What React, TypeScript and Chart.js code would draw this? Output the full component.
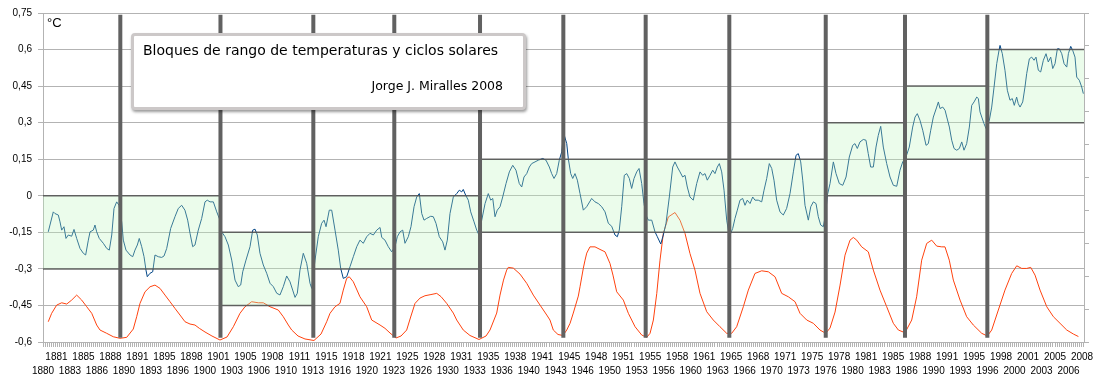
import React, { useEffect, useRef } from 'react';
import { Chart, registerables } from 'chart.js';

Chart.register(...registerables);

// ---- axis ranges ----
const X_MIN = 1880;
const X_MAX = 2008.58;
const LABEL_STEP = 20 / 12; // one label every 20 months
const MINOR_STEP = 0.25; // minor tick every quarter

const xTickLabels = [
  '1880', '1881', '1883', '1885', '1886', '1888', '1890', '1891', '1893', '1895', '1896', '1898',
  '1900', '1901', '1903', '1905', '1906', '1908', '1910', '1911', '1913', '1915', '1916', '1918',
  '1920', '1921', '1923', '1925', '1926', '1928', '1930', '1931', '1933', '1935', '1936', '1938',
  '1940', '1941', '1943', '1945', '1946', '1948', '1950', '1951', '1953', '1955', '1956', '1958',
  '1960', '1961', '1963', '1965', '1966', '1968', '1970', '1971', '1973', '1975', '1976', '1978',
  '1980', '1981', '1983', '1985', '1986', '1988', '1990', '1991', '1993', '1995', '1996', '1998',
  '2000', '2001', '2003', '2005', '2006', '2008',
];

const yTempTicks = [-0.6, -0.45, -0.3, -0.15, 0, 0.15, 0.3, 0.45, 0.6, 0.75];
const ySunMin = 0;
const ySunMax = 500;
const ySunStep = 50;

// ---- solar minima (vertical bars) ----
const solarMinima = [1889.55, 1901.92, 1913.39, 1923.39, 1933.98, 1944.27, 1954.44, 1964.77, 1976.68, 1986.47, 1996.64];
const barBottom = -0.583;
const barTop = 0.743;

// ---- temperature range blocks ----
const blockStarts = [1880, 1901.92, 1913.39, 1933.98, 1976.68, 1986.47, 1996.64];
const blockLow = [-0.3, -0.45, -0.3, -0.15, 0, 0.15, 0.3];
const blockHigh = [0, -0.15, 0, 0.15, 0.3, 0.45, 0.6];

// ---- temperature anomaly (ºC), [year, value] ----
const temperature: [number, number][] = [
  [1880.65, -0.148], [1881.27, -0.066], [1881.48, -0.073], [1881.89, -0.079], [1882.10, -0.107], [1882.31, -0.141],
  [1882.59, -0.127], [1882.84, -0.175], [1883.13, -0.161], [1883.54, -0.166], [1883.83, -0.138], [1884.16, -0.175],
  [1884.57, -0.216], [1884.98, -0.236], [1885.27, -0.243], [1885.60, -0.182], [1885.81, -0.148], [1886.21, -0.141],
  [1886.42, -0.120], [1886.63, -0.148], [1886.95, -0.175], [1887.45, -0.195], [1887.87, -0.216], [1888.19, -0.223],
  [1888.49, -0.161], [1888.77, -0.052], [1889.10, -0.025], [1889.39, -0.039], [1889.72, -0.107], [1889.92, -0.182],
  [1890.25, -0.223], [1890.75, -0.243], [1891.08, -0.250], [1891.36, -0.223], [1891.65, -0.202], [1891.89, -0.175],
  [1892.19, -0.209], [1892.48, -0.250], [1892.72, -0.305], [1892.88, -0.332], [1893.22, -0.318], [1893.55, -0.312],
  [1893.83, -0.243], [1894.24, -0.250], [1894.66, -0.253], [1894.95, -0.247], [1895.28, -0.216], [1895.77, -0.134],
  [1896.30, -0.086], [1896.71, -0.052], [1897.13, -0.039], [1897.53, -0.059], [1897.87, -0.100], [1898.16, -0.154],
  [1898.49, -0.209], [1898.77, -0.202], [1899.18, -0.141], [1899.60, -0.093], [1900.01, -0.025], [1900.29, -0.018],
  [1900.63, -0.025], [1901.04, -0.025], [1901.46, -0.066], [1901.86, -0.100], [1902.07, -0.148], [1902.48, -0.168],
  [1902.89, -0.202], [1903.31, -0.264], [1903.72, -0.346], [1904.12, -0.373], [1904.42, -0.366], [1904.67, -0.312],
  [1905.07, -0.264], [1905.57, -0.209], [1905.90, -0.141], [1906.19, -0.137], [1906.47, -0.161], [1906.80, -0.236],
  [1907.21, -0.284], [1907.63, -0.318], [1908.04, -0.359], [1908.45, -0.373], [1908.87, -0.400], [1909.27, -0.407],
  [1909.68, -0.373], [1910.10, -0.329], [1910.51, -0.353], [1910.84, -0.387], [1911.13, -0.417], [1911.41, -0.400],
  [1911.74, -0.305], [1912.15, -0.236], [1912.57, -0.277], [1912.98, -0.359], [1913.19, -0.380], [1913.60, -0.264],
  [1914.00, -0.168], [1914.42, -0.113], [1914.71, -0.100], [1914.96, -0.127], [1915.36, -0.059], [1915.66, -0.059],
  [1916.07, -0.141], [1916.47, -0.223], [1916.77, -0.298], [1917.09, -0.339], [1917.51, -0.332], [1917.92, -0.291],
  [1918.33, -0.250], [1918.75, -0.209], [1919.15, -0.182], [1919.56, -0.195], [1919.98, -0.168], [1920.39, -0.154],
  [1920.80, -0.161], [1921.22, -0.141], [1921.63, -0.130], [1921.84, -0.171], [1922.24, -0.182], [1922.65, -0.209],
  [1923.07, -0.230], [1923.48, -0.209], [1923.76, -0.168], [1924.10, -0.148], [1924.43, -0.141], [1924.71, -0.195],
  [1925.12, -0.168], [1925.45, -0.127], [1925.83, -0.045], [1926.16, -0.005], [1926.48, 0.009], [1926.78, -0.073],
  [1927.06, -0.100], [1927.39, -0.093], [1927.89, -0.084], [1928.21, -0.086], [1928.54, -0.113], [1928.95, -0.168],
  [1929.37, -0.189], [1929.65, -0.223], [1929.94, -0.182], [1930.27, -0.073], [1930.68, -0.005], [1931.10, 0.009],
  [1931.42, 0.023], [1931.72, 0.016], [1931.91, 0.026], [1932.21, 0.002], [1932.53, -0.018], [1932.83, -0.066],
  [1933.24, -0.107], [1933.57, -0.141], [1933.85, -0.161], [1934.19, -0.100], [1934.60, -0.032], [1935.00, 0.009],
  [1935.30, -0.018], [1935.55, -0.011], [1935.83, -0.086], [1936.11, -0.059], [1936.45, -0.045], [1936.78, -0.005],
  [1937.19, 0.050], [1937.60, 0.098], [1938.02, 0.125], [1938.42, 0.105], [1938.83, 0.050], [1939.13, 0.036],
  [1939.41, 0.077], [1939.75, 0.091], [1940.07, 0.118], [1940.36, 0.132], [1940.77, 0.139], [1941.18, 0.146],
  [1941.72, 0.153], [1942.13, 0.146], [1942.54, 0.118], [1942.83, 0.091], [1943.12, 0.071], [1943.45, 0.091],
  [1943.77, 0.146], [1944.07, 0.180], [1944.19, 0.221], [1944.39, 0.248], [1944.69, 0.214], [1944.88, 0.153],
  [1945.18, 0.091], [1945.43, 0.071], [1945.71, 0.091], [1946.00, 0.064], [1946.33, 0.009], [1946.74, -0.059],
  [1947.15, -0.045], [1947.77, -0.011], [1948.18, -0.025], [1948.59, -0.032], [1949.01, -0.045], [1949.42, -0.066],
  [1949.83, -0.113], [1950.24, -0.125], [1950.65, -0.161], [1950.94, -0.168], [1951.18, -0.141], [1951.48, -0.045],
  [1951.80, 0.084], [1952.10, 0.091], [1952.42, 0.071], [1952.71, 0.030], [1953.00, 0.071], [1953.33, 0.098],
  [1953.62, 0.112], [1953.95, 0.050], [1954.23, -0.032], [1954.48, -0.079], [1954.77, -0.100], [1955.19, -0.100],
  [1955.59, -0.148], [1955.88, -0.168], [1956.30, -0.198], [1956.62, -0.161], [1956.95, -0.113], [1957.36, -0.005],
  [1957.78, 0.118], [1958.06, 0.139], [1958.35, 0.118], [1958.68, 0.098], [1959.01, 0.077], [1959.30, 0.084],
  [1959.58, 0.036], [1959.91, -0.005], [1960.32, -0.018], [1960.74, 0.050], [1961.15, 0.098], [1961.48, 0.084],
  [1961.77, 0.091], [1962.05, 0.064], [1962.39, 0.084], [1962.72, 0.105], [1963.00, 0.091], [1963.29, 0.118],
  [1963.54, 0.132], [1963.83, 0.098], [1964.12, 0.023], [1964.45, -0.100], [1964.65, -0.141], [1964.94, -0.154],
  [1965.19, -0.134], [1965.47, -0.093], [1965.76, -0.059], [1966.09, -0.018], [1966.42, -0.011], [1966.71, -0.039],
  [1966.99, -0.018], [1967.33, -0.032], [1967.66, -0.005], [1967.94, -0.018], [1968.35, -0.018], [1968.77, -0.025],
  [1969.06, 0.023], [1969.39, 0.071], [1969.71, 0.132], [1970.01, 0.112], [1970.29, 0.064], [1970.62, -0.018],
  [1971.03, -0.066], [1971.44, -0.079], [1971.85, -0.052], [1972.27, 0.009], [1972.68, 0.098], [1973.01, 0.166],
  [1973.29, 0.173], [1973.59, 0.139], [1973.84, 0.064], [1974.12, -0.039], [1974.53, -0.100], [1974.83, -0.045],
  [1975.15, -0.025], [1975.48, -0.032], [1975.76, -0.086], [1976.06, -0.120], [1976.38, -0.127], [1976.68, -0.073],
  [1976.88, 0.002], [1977.21, 0.050], [1977.62, 0.139], [1977.95, 0.091], [1978.36, 0.050], [1978.78, 0.043],
  [1979.19, 0.077], [1979.59, 0.159], [1980.01, 0.207], [1980.29, 0.214], [1980.58, 0.194], [1980.91, 0.221],
  [1981.32, 0.231], [1981.65, 0.228], [1981.93, 0.173], [1982.23, 0.118], [1982.56, 0.118], [1982.89, 0.200],
  [1983.17, 0.248], [1983.47, 0.285], [1983.79, 0.200], [1984.21, 0.132], [1984.62, 0.077], [1985.03, 0.043],
  [1985.45, 0.039], [1985.85, 0.105], [1986.19, 0.139], [1986.59, 0.159], [1987.00, 0.200], [1987.42, 0.282],
  [1987.71, 0.323], [1987.99, 0.337], [1988.32, 0.310], [1988.66, 0.269], [1989.07, 0.207], [1989.35, 0.214],
  [1989.65, 0.269], [1989.97, 0.323], [1990.39, 0.364], [1990.59, 0.385], [1990.80, 0.358], [1991.13, 0.364],
  [1991.42, 0.351], [1991.63, 0.323], [1991.95, 0.282], [1992.24, 0.228], [1992.53, 0.194], [1992.86, 0.187],
  [1993.18, 0.194], [1993.48, 0.221], [1993.76, 0.187], [1994.09, 0.214], [1994.42, 0.282], [1994.71, 0.371],
  [1995.00, 0.385], [1995.33, 0.405], [1995.53, 0.399], [1995.74, 0.344], [1995.95, 0.323], [1996.23, 0.296],
  [1996.48, 0.276], [1996.64, 0.289], [1996.89, 0.310], [1997.18, 0.364], [1997.47, 0.446], [1997.80, 0.542],
  [1998.08, 0.596], [1998.21, 0.617], [1998.49, 0.583], [1998.82, 0.515], [1999.11, 0.433], [1999.44, 0.392],
  [1999.72, 0.399], [1999.97, 0.371], [2000.26, 0.405], [2000.46, 0.378], [2000.68, 0.364], [2001.01, 0.385],
  [2001.29, 0.446], [2001.50, 0.501], [2001.83, 0.562], [2002.12, 0.569], [2002.41, 0.556], [2002.65, 0.569],
  [2002.94, 0.515], [2003.23, 0.508], [2003.56, 0.556], [2003.89, 0.583], [2004.17, 0.549], [2004.47, 0.569],
  [2004.72, 0.522], [2005.00, 0.542], [2005.29, 0.603], [2005.53, 0.603], [2005.83, 0.583], [2006.12, 0.542],
  [2006.45, 0.528], [2006.65, 0.583], [2006.94, 0.613], [2007.19, 0.596], [2007.47, 0.569], [2007.68, 0.487],
  [2008.00, 0.474], [2008.30, 0.446], [2008.50, 0.419],
];

// ---- smoothed sunspot number (right axis), [year, value] ----
const sunspots: [number, number][] = [
  [1880.65, 30.8], [1881.07, 43.6], [1881.69, 56.1], [1882.31, 59.6], [1882.93, 57.7], [1883.54, 63.7],
  [1884.16, 71.3], [1884.78, 63.7], [1885.40, 53.6], [1886.02, 43.6], [1886.63, 25.8], [1887.04, 18.2],
  [1887.87, 13.2], [1888.68, 8.0], [1889.51, 5.6], [1890.34, 7.1], [1891.15, 19.7], [1891.57, 38.4],
  [1891.98, 58.7], [1892.60, 76.3], [1893.22, 83.9], [1893.83, 86.5], [1894.45, 81.5], [1895.07, 71.3],
  [1895.69, 61.2], [1896.30, 51.1], [1896.92, 41.0], [1897.54, 30.8], [1898.16, 27.3], [1898.77, 25.8],
  [1899.31, 20.8], [1900.01, 15.2], [1900.87, 9.1], [1901.86, 3.0], [1902.73, 7.6], [1903.51, 23.2],
  [1904.33, 43.6], [1904.95, 53.6], [1905.78, 61.2], [1906.59, 59.6], [1907.21, 59.6], [1908.04, 53.6],
  [1909.06, 48.6], [1909.68, 38.4], [1910.30, 25.8], [1910.72, 18.2], [1911.50, 9.1], [1912.36, 4.6],
  [1913.47, 2.3], [1914.34, 12.1], [1915.04, 30.8], [1915.45, 43.6], [1916.07, 53.6], [1916.68, 58.7],
  [1917.09, 78.9], [1917.51, 96.7], [1917.83, 99.1], [1918.33, 91.5], [1919.15, 68.7], [1919.98, 53.6],
  [1920.60, 33.4], [1921.63, 25.8], [1922.24, 20.8], [1922.86, 13.7], [1923.60, 6.1], [1924.22, 9.1],
  [1924.92, 18.2], [1925.45, 39.5], [1925.95, 58.7], [1926.57, 66.8], [1927.18, 70.3], [1927.92, 72.1],
  [1928.63, 73.9], [1929.16, 69.0], [1929.86, 58.7], [1930.68, 44.0], [1931.10, 33.4], [1931.91, 18.2],
  [1932.74, 9.9], [1933.85, 3.8], [1934.72, 9.1], [1935.21, 18.2], [1936.04, 44.0], [1936.45, 71.3],
  [1936.88, 94.1], [1937.27, 109.3], [1937.47, 113.4], [1938.09, 112.3], [1938.92, 103.2], [1939.75, 89.1],
  [1940.56, 71.3], [1941.39, 56.1], [1942.22, 41.0], [1942.62, 33.4], [1943.03, 18.2], [1943.61, 11.4],
  [1944.23, 9.9], [1944.69, 18.2], [1945.10, 28.4], [1945.50, 44.0], [1946.12, 69.8], [1946.33, 83.9],
  [1946.74, 112.3], [1946.95, 124.4], [1947.16, 135.1], [1947.56, 144.6], [1948.18, 144.6], [1948.80, 140.7],
  [1949.42, 137.0], [1950.03, 119.4], [1950.40, 101.7], [1950.86, 76.3], [1951.68, 63.7], [1952.30, 43.6],
  [1953.13, 23.2], [1953.95, 10.6], [1954.57, 7.1], [1954.98, 13.2], [1955.39, 33.4], [1955.81, 73.9],
  [1956.21, 124.4], [1956.62, 164.9], [1957.24, 190.1], [1958.06, 196.8], [1958.68, 185.1], [1959.30, 164.9],
  [1959.91, 134.6], [1960.53, 109.3], [1961.15, 73.9], [1961.98, 46.0], [1962.79, 33.4], [1963.62, 23.2],
  [1964.45, 13.2], [1965.06, 13.2], [1965.68, 23.2], [1966.50, 53.6], [1967.12, 78.9], [1967.94, 104.2],
  [1968.77, 108.2], [1969.59, 106.7], [1970.42, 99.1], [1971.24, 73.9], [1972.06, 68.7], [1972.89, 61.2],
  [1973.50, 43.6], [1974.33, 33.4], [1975.15, 28.4], [1975.97, 18.2], [1976.68, 13.2], [1977.21, 21.2],
  [1977.83, 45.5], [1978.45, 86.5], [1979.06, 132.0], [1979.68, 154.8], [1980.09, 158.9], [1980.51, 154.8],
  [1981.12, 144.6], [1981.94, 137.0], [1982.56, 109.3], [1983.38, 78.9], [1984.21, 53.6], [1985.03, 28.4],
  [1985.65, 18.2], [1986.47, 14.1], [1987.30, 33.4], [1987.91, 68.7], [1988.53, 124.4], [1989.15, 149.8],
  [1989.77, 154.8], [1990.39, 145.7], [1991.01, 144.6], [1991.41, 144.6], [1991.94, 124.4], [1992.44, 94.1],
  [1993.27, 63.7], [1994.09, 38.4], [1994.91, 25.8], [1995.95, 13.2], [1996.64, 9.1], [1997.18, 18.2],
  [1998.00, 48.6], [1998.82, 78.9], [1999.65, 104.2], [2000.27, 115.8], [2000.89, 111.8], [2001.50, 111.8],
  [2002.00, 113.4], [2002.53, 101.7], [2003.15, 78.9], [2003.98, 53.6], [2004.80, 38.4], [2005.62, 28.4],
  [2006.45, 18.2], [2007.27, 12.1], [2007.89, 8.3],
];

const TITLE = 'Bloques de rango de temperaturas y ciclos solares';
const AUTHOR = 'Jorge J. Miralles 2008';
const UNIT = '°C';

const GRID = '#b3b3b3';

function fmtComma(v: number): string {
  const n = Math.round(v * 100) / 100;
  return String(n === 0 ? 0 : n).replace('.', ',');
}

export default function App() {
  const canvasRef = useRef<HTMLCanvasElement | null>(null);

  useEffect(() => {
    const canvas = canvasRef.current;
    if (!canvas) return;

    const labelTicks = xTickLabels.map((_, i) => ({ value: X_MIN + i * LABEL_STEP }));
    const minorTicks: { value: number }[] = [];
    const nMinor = Math.floor((X_MAX - X_MIN) / MINOR_STEP + 1e-9);
    for (let i = 0; i <= nMinor; i++) minorTicks.push({ value: X_MIN + i * MINOR_STEP });

    const barData: { x: number; y: number | null }[] = [];
    solarMinima.forEach((m) => {
      barData.push({ x: m, y: barBottom }, { x: m, y: barTop }, { x: m, y: null });
    });

    const last = blockStarts.length - 1;
    const upper = blockStarts.map((s, i) => ({ x: s, y: blockHigh[i] }));
    upper.push({ x: X_MAX, y: blockHigh[last] });
    const lower = blockStarts.map((s, i) => ({ x: s, y: blockLow[i] }));
    lower.push({ x: X_MAX, y: blockLow[last] });

    const chart = new Chart(canvas, {
      type: 'line',
      data: {
        datasets: [
          {
            label: 'Mínimos solares',
            data: barData as any,
            borderColor: '#616161',
            borderWidth: 4,
            pointRadius: 0,
            spanGaps: false,
            fill: false,
            order: 1,
            xAxisID: 'x',
            yAxisID: 'y',
          },
          {
            label: 'Bloque sup',
            data: upper,
            stepped: true,
            borderColor: 'rgba(80,80,80,0.85)',
            borderWidth: 1.5,
            pointRadius: 0,
            fill: false,
            order: 2,
            xAxisID: 'x',
            yAxisID: 'y',
          },
          {
            label: 'Bloque inf',
            data: lower,
            stepped: true,
            borderColor: 'rgba(80,80,80,0.85)',
            borderWidth: 1.5,
            pointRadius: 0,
            fill: '-1',
            backgroundColor: 'rgba(190,245,190,0.3)',
            order: 2,
            xAxisID: 'x',
            yAxisID: 'y',
          },
          {
            label: 'Temperatura',
            data: temperature.map(([x, y]) => ({ x, y })),
            borderColor: '#004586',
            borderWidth: 1,
            pointRadius: 0,
            fill: false,
            order: 3,
            xAxisID: 'x',
            yAxisID: 'y',
          },
          {
            label: 'Manchas solares',
            data: sunspots.map(([x, y]) => ({ x, y })),
            borderColor: '#ff420e',
            borderWidth: 1,
            pointRadius: 0,
            fill: false,
            order: 3,
            xAxisID: 'x',
            yAxisID: 'y2',
          },
        ],
      },
      options: {
        responsive: false,
        animation: false,
        events: [],
        layout: { padding: { top: 13, left: 0, right: 0, bottom: 0 } },
        plugins: {
          legend: { display: false },
          tooltip: { enabled: false },
        },
        scales: {
          x: {
            type: 'linear',
            position: 'bottom',
            weight: 1,
            min: X_MIN,
            max: X_MAX,
            afterBuildTicks: (s: any) => {
              s.ticks = labelTicks.map((t) => ({ value: t.value }));
            },
            afterFit: (s: any) => {
              s.height = 45;
            },
            grid: { display: false, drawTicks: false },
            border: { display: false },
            ticks: {
              autoSkip: false,
              maxRotation: 0,
              minRotation: 0,
              padding: 3,
              color: '#000',
              font: { family: 'Liberation Sans', size: 10, lineHeight: 1.43 },
              callback: (_v: any, i: number) => (i % 2 === 0 ? ['', xTickLabels[i]] : xTickLabels[i]),
            },
          },
          xMinor: {
            type: 'linear',
            axis: 'x',
            position: 'bottom',
            weight: 0,
            min: X_MIN,
            max: X_MAX,
            afterBuildTicks: (s: any) => {
              s.ticks = minorTicks.map((t) => ({ value: t.value }));
            },
            afterFit: (s: any) => {
              s.height = 5;
            },
            grid: { drawOnChartArea: false, color: GRID, tickLength: 5 },
            border: { display: true, color: GRID },
            ticks: { display: false },
          },
          y: {
            type: 'linear',
            position: 'left',
            min: -0.6,
            max: 0.75,
            afterBuildTicks: (s: any) => {
              s.ticks = yTempTicks.map((v) => ({ value: v }));
            },
            afterFit: (s: any) => {
              s.width = 43;
            },
            grid: { color: GRID, tickLength: 5 },
            border: { color: GRID },
            ticks: {
              padding: 6,
              color: '#000',
              font: { family: 'Liberation Sans', size: 10 },
              callback: (v: any) => fmtComma(Number(v)),
            },
          },
          y2: {
            type: 'linear',
            position: 'right',
            min: ySunMin,
            max: ySunMax,
            ticks: { display: false, stepSize: ySunStep },
            afterFit: (s: any) => {
              s.width = 31;
            },
            grid: { drawOnChartArea: false, color: GRID, tickLength: 5 },
            border: { color: GRID },
          },
        },
      } as any,
    });

    return () => chart.destroy();
  }, []);

  return (
    <div style={{ position: 'absolute', left: 0, top: 0, width: 1115, height: 392, background: '#ffffff', overflow: 'hidden' }}>
      <canvas ref={canvasRef} width={1115} height={392} style={{ display: 'block', width: 1115, height: 392 }} />
      <div
        style={{
          position: 'absolute',
          left: 47,
          top: 15,
          font: '13px "Liberation Sans", Arial, sans-serif',
          lineHeight: '15px',
          color: '#000',
          whiteSpace: 'nowrap',
        }}
      >
        {UNIT}
      </div>
      <div
        style={{
          position: 'absolute',
          left: 131,
          top: 33,
          width: 395,
          height: 77,
          boxSizing: 'border-box',
          border: '3px solid #ccc8c8',
          borderRadius: 4,
          background: '#ffffff',
          boxShadow: '1px 2px 3px rgba(0,0,0,0.4)',
        }}
      />
      <div
        style={{
          position: 'absolute',
          left: 143,
          top: 41.5,
          font: '14px "DejaVu Sans", Verdana, sans-serif',
          lineHeight: '16px',
          color: '#000',
          whiteSpace: 'nowrap',
        }}
      >
        {TITLE}
      </div>
      <div
        style={{
          position: 'absolute',
          right: 1115 - 503,
          top: 78,
          font: '12.5px "DejaVu Sans", Verdana, sans-serif',
          lineHeight: '15px',
          color: '#000',
          whiteSpace: 'nowrap',
          textAlign: 'right',
        }}
      >
        {AUTHOR}
      </div>
    </div>
  );
}
